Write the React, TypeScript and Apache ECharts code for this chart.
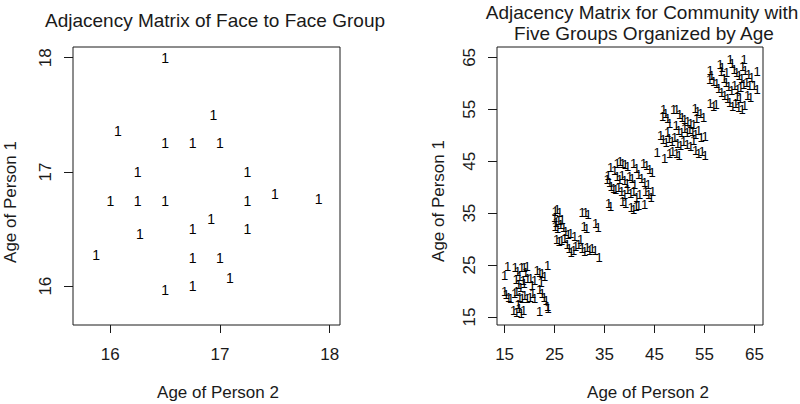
import React, { useEffect, useRef } from "react";
import * as echarts from "echarts";

// Left panel: face-to-face group (x = age of person 2, y = age of person 1)
const faceAge2 = [16.5, 16.94, 16.07, 16.5, 16.75, 17.0, 16.25, 17.25, 17.5, 16.0, 16.25, 16.5, 17.25, 17.9, 16.92, 16.75, 17.25, 16.27, 15.87, 16.75, 17.0, 17.09, 16.5, 16.75];
const faceAge1 = [18.0, 17.5, 17.36, 17.25, 17.25, 17.25, 17.0, 17.0, 16.81, 16.75, 16.75, 16.75, 16.75, 16.76, 16.59, 16.5, 16.5, 16.46, 16.27, 16.25, 16.25, 16.07, 15.97, 16.0];
const faceTicks = [16, 17, 18];

// Right panel: five age groups, [age of person 2, age of person 1]
const group1 = [[15.6,24.7],[15,23],[17.1,24.5],[17.6,23.8],[18.4,24.6],[18.9,24.5],[19.5,24.8],[17.3,22.3],[18,22.8],[18.7,22.0],[19.2,23.5],[17.8,21.2],[18.2,20.6],[17.4,20.0],[18.9,21.5],[19.6,22.4],[20.2,22.5],[21.5,24.0],[22.0,23.6],[22.5,23.3],[23.0,22.8],[23.6,25.0],[21.0,22.0],[20.5,21.0],[22.3,21.6],[15.0,20.0],[15.3,19.3],[15.8,18.8],[16.2,18.5],[17.0,19.6],[18.0,18.8],[18.5,18.5],[19.0,19.2],[19.5,18.6],[20.1,18.8],[20.6,19.5],[21.0,18.6],[22.5,19.5],[22.9,18.8],[23.3,18.2],[23.6,17.1],[16.8,16.2],[17.4,15.9],[17.9,16.6],[18.3,15.7],[18.8,16.2],[22.0,16.0],[23.7,16.6],[17.7,17.5],[22.0,20.3]];
const group2 = [[25.1,35.4],[25.5,35.7],[26.0,35.2],[25.0,34.2],[25.3,33.2],[25.8,33.5],[26.5,33.8],[25.1,32.5],[25.6,32.0],[26.2,32.8],[26.8,32.2],[27.2,31.5],[27.7,30.8],[28.2,31.0],[25.4,30.0],[25.9,29.5],[26.4,29.8],[27.0,30.2],[27.5,29.0],[27.9,28.2],[28.3,27.4],[28.8,27.8],[29.2,28.6],[29.8,29.0],[30.5,28.2],[31.0,27.6],[31.5,28.3],[32.0,27.8],[32.5,28.1],[33.1,27.9],[33.9,26.5],[30.5,35.1],[31.2,35.2],[31.7,34.8],[30.9,32.4],[31.4,32.0],[33.2,33.0],[33.7,32.3],[30.2,29.9],[29.0,30.5]];
const group3 = [[35.7,42.3],[35.5,41.5],[36.0,41.0],[36.3,40.2],[36.8,39.8],[36.2,43.8],[37.0,43.2],[37.5,44.6],[38.1,45.0],[38.6,44.6],[39.1,44.3],[39.6,43.9],[40.8,44.5],[41.4,43.6],[42.8,44.6],[43.4,44.2],[44.0,43.5],[44.5,42.8],[37.5,42.0],[38.0,41.5],[38.5,42.3],[39.0,41.2],[39.5,40.8],[40.0,42.0],[40.5,41.6],[41.0,40.5],[41.8,42.4],[42.4,41.7],[43.0,41.0],[43.7,40.5],[37.2,39.5],[37.8,40.0],[38.4,39.2],[39.0,38.5],[39.6,39.6],[40.2,38.8],[40.8,39.2],[41.4,38.0],[42.0,38.6],[43.2,39.2],[43.8,38.5],[44.3,38.0],[38.6,37.2],[39.2,36.8],[40.3,36.0],[40.8,35.8],[41.3,36.2],[41.8,36.4],[43.0,36.6],[35.8,36.8],[36.2,36.2],[44.6,39.2]];
const group4 = [[46.8,55.0],[47.2,54.2],[46.6,53.6],[47.6,53.2],[48.0,52.2],[48.8,55.0],[49.4,55.0],[50.0,54.0],[50.5,53.5],[51.0,53.0],[51.6,52.6],[52.2,52.3],[52.8,52.0],[53.1,55.1],[53.6,54.6],[54.2,54.2],[54.8,53.4],[53.4,53.2],[49.3,51.8],[49.8,51.0],[50.4,50.6],[51.0,51.4],[51.5,50.5],[52.0,51.2],[52.6,50.8],[53.2,50.2],[53.8,51.0],[54.3,49.6],[55.1,49.8],[46.2,49.9],[46.7,49.2],[47.3,48.6],[47.9,49.4],[48.5,48.8],[49.0,49.6],[49.6,48.4],[50.2,48.0],[50.8,48.8],[51.5,48.2],[52.2,47.9],[45.5,46.6],[47.0,45.6],[48.0,46.4],[48.6,46.9],[49.4,46.5],[49.9,46.1],[53.2,47.1],[53.8,46.4],[54.5,46.8],[55.1,46.2],[52.8,49.0],[47.6,50.5]];
const group5 = [[56.1,62.4],[56.4,61.5],[56.0,60.8],[56.8,60.4],[57.4,60.0],[58.1,63.6],[58.5,63.0],[58.3,62.2],[58.9,61.0],[59.3,60.2],[57.8,59.0],[58.4,58.2],[59.0,57.6],[59.6,57.0],[60.1,64.6],[60.5,63.8],[60.9,62.6],[61.4,62.0],[61.9,61.5],[62.4,61.0],[62.9,64.6],[62.6,63.2],[63.1,62.4],[63.8,61.8],[64.4,61.2],[65.5,62.2],[64.9,59.6],[65.5,58.8],[64.0,59.6],[63.4,60.2],[62.8,59.8],[62.2,59.2],[61.6,58.8],[61.0,59.5],[60.4,58.6],[59.8,59.4],[60.0,56.4],[60.6,55.6],[61.2,56.2],[61.8,55.4],[62.5,55.0],[63.0,55.8],[63.6,57.6],[64.2,57.3],[56.1,56.2],[56.8,55.6],[57.3,56.0],[61.5,57.4],[59.4,62.0],[62.1,57.0]];
const communityTicks = [15, 25, 35, 45, 55, 65];

const leftTitle = "Adjacency Matrix of Face to Face Group";
const rightTitle = ["Adjacency Matrix for Community with", "Five Groups Organized by Age"];
const xTitle = "Age of Person 2";
const yTitle = "Age of Person 1";
const pointText = "1";

const FONT = "'Liberation Sans', Arial, Helvetica, sans-serif";
const INK = "#1a1a1a";

function valueAxis(gridIndex: number, min: number, max: number, ticks: number[], isY: boolean) {
  return {
    type: "value",
    gridIndex,
    min,
    max,
    splitLine: { show: false },
    axisLine: { show: false },
    axisTick: {
      show: true,
      inside: false,
      length: isY ? 9 : 8,
      customValues: ticks,
      lineStyle: { color: INK, width: 1 },
    },
    axisLabel: {
      show: true,
      customValues: ticks,
      rotate: isY ? 90 : 0,
      margin: isY ? 19 : 21,
      fontSize: 17,
      fontFamily: FONT,
      color: INK,
    },
  };
}

function textSeries(x: number, y: number, data: number[][], size: number) {
  return {
    type: "scatter",
    xAxisIndex: x,
    yAxisIndex: y,
    data,
    symbol: "circle",
    symbolSize: 0,
    silent: true,
    itemStyle: { color: "#000", opacity: 1 },
    label: {
      show: true,
      position: "inside",
      formatter: pointText,
      fontSize: size,
      fontFamily: FONT,
      color: "#000",
    },
    emphasis: { disabled: true },
  };
}

function txt(text: string, x: number, y: number, size: number, rot = 0) {
  return {
    type: "text",
    x,
    y,
    rotation: rot,
    silent: true,
    style: {
      text,
      fontSize: size,
      fontFamily: FONT,
      fill: INK,
      align: "center",
      verticalAlign: "middle",
      textAlign: "center",
      textVerticalAlign: "middle",
    },
  };
}

export default function App() {
  const ref = useRef<HTMLDivElement>(null);

  useEffect(() => {
    document.body.style.margin = "0";
    if (!ref.current) return;
    const chart = echarts.init(ref.current, null, { renderer: "svg" });
    const facePairs = faceAge2.map((v, i) => [v, faceAge1[i]]);
    const community = [...group1, ...group2, ...group3, ...group4, ...group5];

    chart.setOption({
      animation: false,
      backgroundColor: "#ffffff",
      grid: [
        { left: 73, top: 47, width: 267, height: 278, show: true, borderColor: INK, borderWidth: 1, backgroundColor: "transparent" },
        { left: 497, top: 47, width: 266, height: 278, show: true, borderColor: INK, borderWidth: 1, backgroundColor: "transparent" },
      ],
      xAxis: [
        valueAxis(0, 15.66, 18.094, faceTicks, false),
        valueAxis(1, 13.48, 66.7, communityTicks, false),
      ],
      yAxis: [
        valueAxis(0, 15.66, 18.094, faceTicks, true),
        valueAxis(1, 13.46, 67.0, communityTicks, true),
      ],
      series: [textSeries(0, 0, facePairs, 14), textSeries(1, 1, community, 13)],
      graphic: [
        txt(leftTitle, 215, 20, 19),
        txt(rightTitle[0], 642, 12, 19),
        txt(rightTitle[1], 644, 33.5, 19),
        txt(xTitle, 218, 392, 17),
        txt(xTitle, 648, 392, 17),
        txt(yTitle, 10, 202, 17, Math.PI / 2),
        txt(yTitle, 438, 201, 17, Math.PI / 2),
      ],
    });
    return () => chart.dispose();
  }, []);

  return <div ref={ref} style={{ width: 800, height: 404 }} />;
}
